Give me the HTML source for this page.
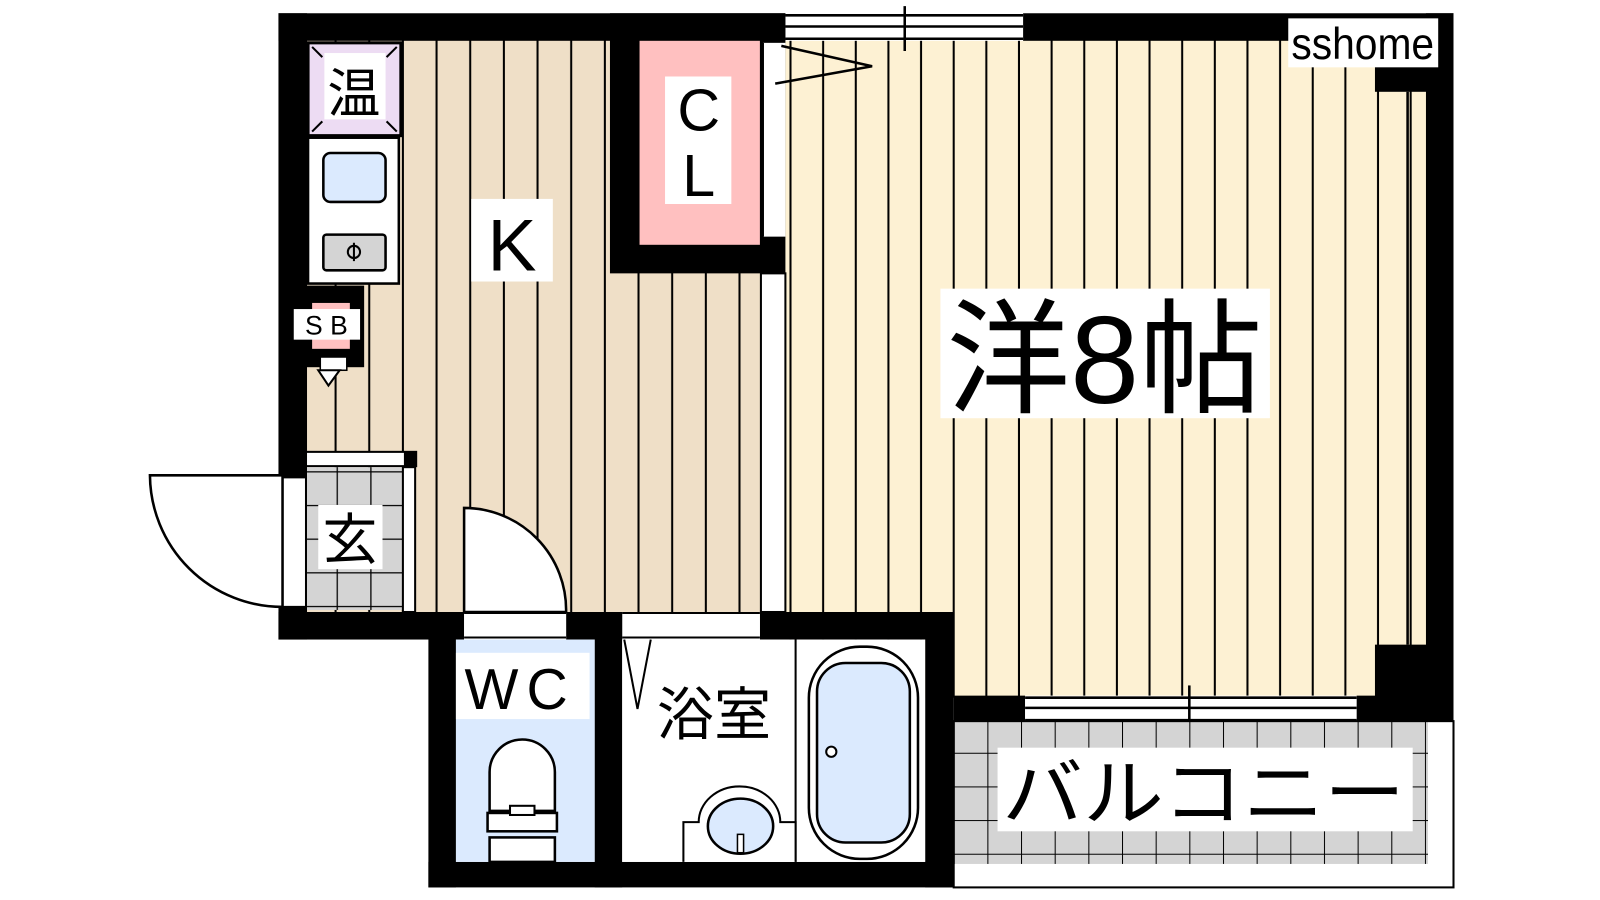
<!DOCTYPE html>
<html><head><meta charset="utf-8"><style>
html,body{margin:0;padding:0;background:#fff;width:1600px;height:900px;overflow:hidden}
svg{display:block}
text{font-family:"Liberation Sans","Noto Sans CJK JP",sans-serif;fill:#000}
</style></head><body>
<svg width="1600" height="900" viewBox="0 0 1600 900" xmlns="http://www.w3.org/2000/svg">
<defs>
<pattern id="kl" x="0" y="0" width="33" height="10" patternUnits="userSpaceOnUse">
<rect width="33" height="10" fill="#efdfc7"/><rect x="31" width="3" height="10" fill="#000"/></pattern>
<pattern id="rl" x="8" y="0" width="32" height="10" patternUnits="userSpaceOnUse">
<rect width="32" height="10" fill="#fdf1d3"/><rect x="30" width="2.5" height="10" fill="#000"/></pattern>
<pattern id="grid" x="0" y="0" width="33" height="33" patternUnits="userSpaceOnUse">
<rect width="33" height="33" fill="#d4d4d4"/><path d="M0 0H33M0 0V33" stroke="#000" stroke-width="2.5"/></pattern>
<pattern id="bgrid" x="935" y="705" width="33" height="33" patternUnits="userSpaceOnUse">
<rect width="33" height="33" fill="#d4d4d4"/><path d="M0 0H33M0 0V33" stroke="#000" stroke-width="2"/></pattern>
</defs>
<g transform="scale(1.02)">
<rect x="300" y="38" width="470" height="570" fill="url(#kl)"/>
<rect x="770" y="38" width="630" height="646" fill="url(#rl)"/>
<rect x="746" y="268" width="24" height="332" fill="#fff" stroke="#000" stroke-width="2"/>

<rect x="273" y="13" width="497" height="27" fill="#000"/>
<rect x="1003" y="13" width="422" height="27" fill="#000"/>
<rect x="770" y="13" width="233" height="27" fill="#fff"/>
<path d="M770 15H1003M770 26H1003M770 38H1003" stroke="#000" stroke-width="2.5"/>
<line x1="887" y1="6" x2="887" y2="50" stroke="#000" stroke-width="2.5"/>
<rect x="1398" y="13" width="27" height="692" fill="#000"/>
<rect x="1348" y="65" width="77" height="25" fill="#000"/>
<rect x="1348" y="632" width="77" height="73" fill="#000"/>
<line x1="1380" y1="90" x2="1380" y2="632" stroke="#000" stroke-width="2.5"/>
<rect x="1263" y="18" width="147" height="48" fill="#fff"/>
<text x="1336" y="58" font-size="44" text-anchor="middle" textLength="140" lengthAdjust="spacingAndGlyphs">sshome</text>

<rect x="273" y="13" width="28" height="455" fill="#000"/>
<rect x="273" y="595" width="28" height="32" fill="#000"/>
<rect x="276" y="468" width="24" height="127" fill="#fff" stroke="#000" stroke-width="2"/>
<path d="M147 466H277V595A130 130 0 0 1 147 466Z" fill="#fff" stroke="#000" stroke-width="2.5"/>

<rect x="598" y="13" width="172" height="255" fill="#000"/>
<rect x="627" y="40" width="118" height="200" fill="#ffc0c0"/>
<rect x="748" y="42" width="22" height="190" fill="#fff"/>
<line x1="748" y1="42" x2="748" y2="232" stroke="#000" stroke-width="2"/>
<path d="M766 45L855 65L760 82" fill="none" stroke="#000" stroke-width="2.5"/>
<rect x="652" y="75" width="65" height="125" fill="#fff"/>
<text x="685" y="128" font-size="58" text-anchor="middle">C</text>
<text x="685" y="192" font-size="58" text-anchor="middle">L</text>

<rect x="302" y="42" width="91" height="91" fill="#eddcf3" stroke="#000" stroke-width="3"/>
<path d="M306 46L316 56M389 46L379 56M306 129L316 119M389 129L379 119" stroke="#000" stroke-width="2"/>
<rect x="318" y="52" width="60" height="65" fill="#fff"/>
<text x="347" y="110" font-size="52" text-anchor="middle">温</text>
<rect x="302" y="135" width="89" height="143" fill="#fff" stroke="#000" stroke-width="2.5"/>
<rect x="317" y="150" width="61" height="48" rx="7" fill="#dbeafe" stroke="#000" stroke-width="2.5"/>
<rect x="317" y="230" width="61" height="35" rx="3" fill="#d4d4d4" stroke="#000" stroke-width="2.5"/>
<circle cx="347" cy="247" r="6" fill="none" stroke="#000" stroke-width="2"/>
<path d="M347 238V256" stroke="#000" stroke-width="2"/>
<rect x="300" y="280" width="57" height="80" fill="#000"/>
<rect x="306" y="297" width="37" height="45" fill="#ffc0c0"/>
<rect x="288" y="303" width="65" height="30" fill="#fff"/>
<text x="320" y="328" font-size="26" text-anchor="middle">S B</text>
<rect x="314" y="350" width="26" height="13" fill="#fff" stroke="#000" stroke-width="1.5"/>
<path d="M312 363L333 363L322 378Z" fill="#fff" stroke="#000" stroke-width="2"/>

<rect x="462" y="195" width="80" height="81" fill="#fff"/>
<text x="502" y="265" font-size="72" text-anchor="middle">K</text>

<rect x="300" y="443" width="108" height="14" fill="#fff" stroke="#000" stroke-width="2"/>
<rect x="396" y="443" width="12" height="14" fill="#000"/>
<rect x="301" y="458" width="94" height="140" fill="url(#grid)"/>
<rect x="395" y="458" width="12" height="142" fill="#fff" stroke="#000" stroke-width="2"/>
<rect x="312" y="495" width="63" height="63" fill="#fff"/>
<text x="343" y="548" font-size="54" text-anchor="middle">玄</text>

<rect x="273" y="600" width="182" height="27" fill="#000"/>
<rect x="555" y="600" width="55" height="27" fill="#000"/>
<rect x="745" y="600" width="190" height="27" fill="#000"/>
<rect x="455" y="600" width="100" height="27" fill="#fff"/>
<path d="M455 601H555M455 625H555" stroke="#000" stroke-width="2"/>
<rect x="610" y="600" width="135" height="27" fill="#fff"/>
<path d="M610 601H745M610 625H745" stroke="#000" stroke-width="2"/>
<path d="M455 600V498A100 100 0 0 1 555 600Z" fill="#fff" stroke="#000" stroke-width="2.5"/>

<rect x="420" y="600" width="27" height="270" fill="#000"/>
<rect x="420" y="845" width="515" height="25" fill="#000"/>
<rect x="907" y="600" width="28" height="270" fill="#000"/>
<rect x="583" y="600" width="27" height="270" fill="#000"/>
<rect x="447" y="627" width="136" height="218" fill="#dbeafe"/>
<rect x="610" y="627" width="297" height="218" fill="#fff"/>
<path d="M612 627L625 695L638 627" fill="none" stroke="#000" stroke-width="2"/>
<rect x="447" y="640" width="131" height="65" fill="#fff"/>
<text x="510" y="695" font-size="56" text-anchor="middle" letter-spacing="8">WC</text>
<path d="M480 795V757A32 32 0 0 1 544 757V795Z" fill="#fff" stroke="#000" stroke-width="2.5"/>
<rect x="478" y="797" width="68" height="18" fill="#fff" stroke="#000" stroke-width="2.5"/>
<rect x="500" y="790" width="24" height="9" fill="#fff" stroke="#000" stroke-width="2"/>
<rect x="480" y="821" width="64" height="24" fill="#fff" stroke="#000" stroke-width="2.5"/>
<text x="700" y="720" font-size="56" text-anchor="middle">浴室</text>
<line x1="780" y1="627" x2="780" y2="845" stroke="#000" stroke-width="2"/>
<rect x="793" y="634" width="107" height="208" rx="50" fill="#fff" stroke="#000" stroke-width="2.5"/>
<rect x="801" y="650" width="91" height="176" rx="28" fill="#dbeafe" stroke="#000" stroke-width="2.5"/>
<circle cx="815" cy="737" r="5" fill="#fff" stroke="#000" stroke-width="2"/>
<path d="M670 845V806H685A40 35 0 0 1 765 806H780V845" fill="#fff" stroke="#000" stroke-width="2"/>
<ellipse cx="726" cy="810" rx="32" ry="27" fill="#dbeafe" stroke="#000" stroke-width="2.5"/>
<rect x="723" y="818" width="6" height="18" fill="#fff" stroke="#000" stroke-width="1.5"/>

<rect x="935" y="682" width="70" height="25" fill="#000"/>
<rect x="1330" y="682" width="95" height="25" fill="#000"/>
<rect x="1005" y="682" width="325" height="25" fill="#fff"/>
<path d="M1005 684H1330M1005 694H1330M1005 706H1330" stroke="#000" stroke-width="2.5"/>
<line x1="1166" y1="672" x2="1166" y2="718" stroke="#000" stroke-width="2.5"/>

<rect x="935" y="707" width="490" height="163" fill="#fff"/>
<rect x="935" y="707" width="465" height="140" fill="url(#bgrid)"/>
<rect x="935" y="707" width="490" height="163" fill="none" stroke="#000" stroke-width="2"/>
<rect x="978" y="733" width="407" height="82" fill="#fff"/>
<text x="1180" y="803" font-size="72" text-anchor="middle" textLength="395" lengthAdjust="spacingAndGlyphs">バルコニー</text>

<rect x="922" y="283" width="323" height="127" fill="#fff"/>
<text x="1083" y="395" font-size="122" text-anchor="middle" textLength="310" lengthAdjust="spacingAndGlyphs">洋8帖</text>
</g>
</svg>
</body></html>
